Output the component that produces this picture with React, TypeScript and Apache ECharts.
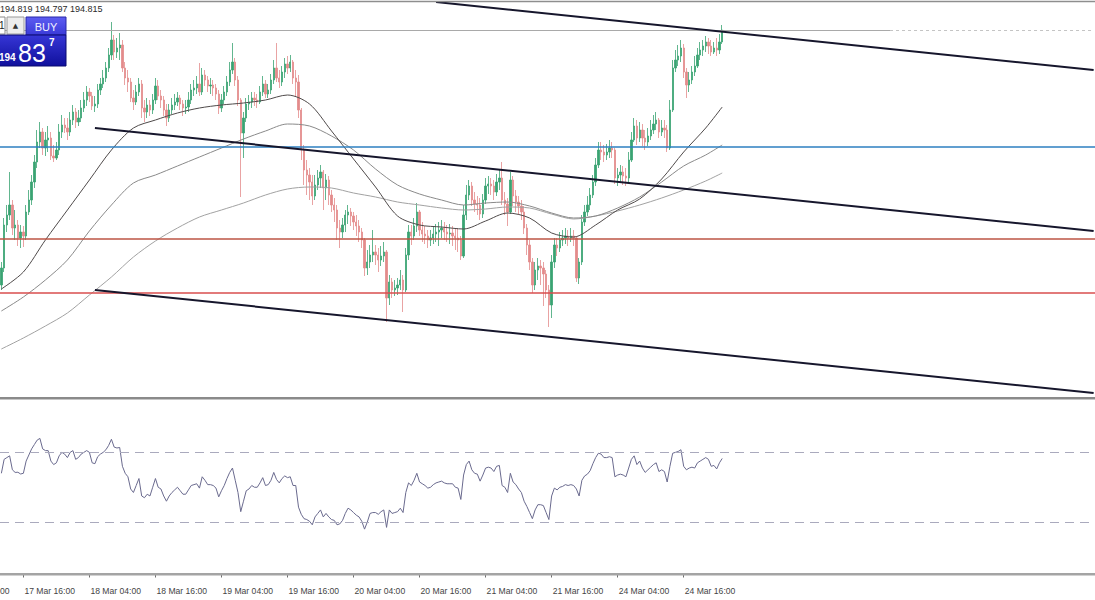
import { useEffect, useRef } from "react";
import * as echarts from "echarts";

// ---- data (30-minute bars, 17 Mar 12:00 .. 24 Mar 23:00) ----
const firstOpen = 192.27;
const closes = [
  192.44, 192.87, 192.97, 193.07, 192.84, 192.87, 192.74, 192.8, 192.76, 193.0,
  193.12, 193.3, 193.5, 193.7, 193.8, 193.64, 193.72, 193.74, 193.56, 193.54,
  193.62, 193.8, 193.87, 193.84, 193.8, 193.92, 194.0, 193.9, 193.94, 194.04,
  194.12, 194.2, 194.16, 194.06, 194.08, 194.22, 194.28, 194.34, 194.44, 194.57,
  194.72, 194.6, 194.64, 194.67, 194.44, 194.34, 194.3, 194.14, 194.1, 194.2,
  194.28, 194.04, 194.0, 194.07, 194.02, 194.12, 194.26, 194.16, 194.12, 194.02,
  193.94, 194.02, 194.07, 194.1, 194.14, 194.08, 194.04, 194.05, 194.12, 194.22,
  194.24, 194.28, 194.2, 194.37, 194.32, 194.26, 194.27, 194.24, 194.18, 194.04,
  194.12, 194.2, 194.3, 194.42, 194.5, 194.32, 194.12, 193.79, 193.94, 194.08,
  194.1, 194.14, 194.12, 194.1, 194.2, 194.28, 194.18, 194.22, 194.32, 194.44,
  194.34, 194.3, 194.4, 194.48, 194.44, 194.5, 194.34, 194.3, 194.02, 193.62,
  193.42, 193.37, 193.3, 193.16, 193.27, 193.34, 193.4, 193.24, 193.32, 193.17,
  193.07, 193.02, 192.84, 192.8, 192.87, 192.97, 193.0, 192.96, 192.9, 192.86,
  192.8, 192.72, 192.44, 192.5, 192.57, 192.6, 192.57, 192.52, 192.56, 192.6,
  192.14, 192.3, 192.22, 192.24, 192.27, 192.32, 192.22, 192.57, 192.8, 192.76,
  192.86, 193.0, 192.82, 192.78, 192.76, 192.72, 192.74, 192.78, 192.8, 192.82,
  192.84, 192.8, 192.78, 192.79, 192.76, 192.74, 192.72, 192.56, 192.97, 193.17,
  193.26, 193.12, 193.08, 193.07, 192.98, 193.12, 193.26, 193.28, 193.26, 193.2,
  193.3, 193.34, 193.12, 193.08, 193.0, 193.32, 193.16, 193.1, 193.06, 193.0,
  192.84, 192.67, 192.5, 192.27, 192.42, 192.46, 192.44, 192.38, 192.22, 192.07,
  192.5, 192.67, 192.64, 192.72, 192.74, 192.76, 192.74, 192.76, 192.74, 192.34,
  192.5, 192.9, 193.0, 193.07, 193.17, 193.3, 193.47, 193.62, 193.6, 193.57,
  193.6, 193.64, 193.62, 193.34, 193.37, 193.4, 193.36, 193.34, 193.52, 193.72,
  193.86, 193.74, 193.82, 193.74, 193.7, 193.76, 193.82, 193.88, 193.92, 193.8,
  193.84, 193.82, 193.64, 194.02, 194.44, 194.52, 194.56, 194.64, 194.4, 194.27,
  194.32, 194.4, 194.46, 194.57, 194.62, 194.66, 194.7, 194.66, 194.6, 194.64,
  194.62, 194.7, 194.82,
];
const highs = [
  192.5, 192.94, 193.07, 193.4, 193.12, 193.02, 192.92, 192.87, 192.86, 193.07,
  193.22, 193.37, 193.57, 193.82, 193.9, 193.84, 193.8, 193.86, 193.8, 193.67,
  193.7, 193.88, 193.97, 193.94, 193.94, 194.0, 194.07, 194.04, 194.02, 194.12,
  194.2, 194.26, 194.24, 194.2, 194.16, 194.28, 194.34, 194.42, 194.5, 194.64,
  194.9, 194.77, 194.74, 194.79, 194.72, 194.5, 194.42, 194.34, 194.22, 194.27,
  194.34, 194.32, 194.12, 194.14, 194.12, 194.18, 194.34, 194.32, 194.22, 194.16,
  194.08, 194.08, 194.14, 194.18, 194.2, 194.17, 194.12, 194.12, 194.2, 194.28,
  194.32, 194.36, 194.49, 194.44, 194.42, 194.36, 194.34, 194.32, 194.28, 194.22,
  194.18, 194.26, 194.36, 194.5, 194.69, 194.54, 194.36, 194.14, 194.0, 194.14,
  194.17, 194.2, 194.2, 194.18, 194.26, 194.36, 194.32, 194.28, 194.38, 194.52,
  194.69, 194.42, 194.46, 194.54, 194.56, 194.57, 194.52, 194.42, 194.37, 194.04,
  193.67, 193.52, 193.44, 193.37, 193.37, 193.42, 193.47, 193.42, 193.38, 193.36,
  193.22, 193.14, 193.07, 192.92, 192.94, 193.02, 193.07, 193.04, 193.0, 192.97,
  192.92, 192.84, 192.74, 192.62, 192.67, 192.82, 192.67, 192.64, 192.66, 192.7,
  192.62, 192.37, 192.34, 192.32, 192.34, 192.42, 192.37, 192.64, 192.87, 192.87,
  192.94, 193.09, 193.02, 192.9, 192.86, 192.82, 192.82, 192.86, 192.88, 192.9,
  192.92, 192.9, 192.87, 192.88, 192.86, 192.84, 192.84, 192.76, 193.07, 193.27,
  193.32, 193.3, 193.2, 193.16, 193.14, 193.18, 193.34, 193.36, 193.34, 193.32,
  193.38, 193.42, 193.5, 193.2, 193.14, 193.4, 193.36, 193.22, 193.16, 193.12,
  193.06, 192.88, 192.72, 192.54, 192.5, 192.54, 192.52, 192.5, 192.42, 192.27,
  192.57, 192.74, 192.74, 192.8, 192.82, 192.84, 192.82, 192.84, 192.82, 192.76,
  192.54, 192.97, 193.07, 193.16, 193.24, 193.37, 193.54, 193.7, 193.7, 193.67,
  193.68, 193.72, 193.7, 193.64, 193.44, 193.47, 193.46, 193.44, 193.6, 193.8,
  193.94, 193.92, 193.9, 193.88, 193.82, 193.84, 193.92, 193.97, 194.0, 193.94,
  193.92, 193.92, 193.87, 194.12, 194.52, 194.62, 194.67, 194.72, 194.68, 194.44,
  194.4, 194.46, 194.56, 194.64, 194.7, 194.72, 194.76, 194.74, 194.72, 194.7,
  194.74, 194.78, 194.87,
];
const lows = [
  192.22, 192.4, 192.8, 192.92, 192.77, 192.72, 192.66, 192.64, 192.65, 192.72,
  192.97, 193.07, 193.24, 193.44, 193.64, 193.57, 193.56, 193.6, 193.52, 193.5,
  193.52, 193.57, 193.74, 193.79, 193.72, 193.76, 193.87, 193.84, 193.86, 193.9,
  194.0, 194.06, 194.1, 194.02, 194.0, 194.04, 194.17, 194.24, 194.3, 194.4,
  194.52, 194.52, 194.54, 194.52, 194.4, 194.27, 194.2, 194.1, 194.02, 194.07,
  194.16, 193.94, 193.9, 193.94, 193.96, 193.98, 194.08, 194.12, 194.04, 193.96,
  193.86, 193.9, 193.98, 194.02, 194.06, 194.02, 193.96, 193.98, 194.0, 194.08,
  194.16, 194.18, 194.16, 194.17, 194.26, 194.2, 194.18, 194.16, 194.12, 193.98,
  194.0, 194.08, 194.16, 194.26, 194.38, 194.26, 194.06, 193.15, 193.54, 193.9,
  194.02, 194.04, 194.06, 194.04, 194.08, 194.16, 194.14, 194.14, 194.18, 194.28,
  194.3, 194.24, 194.26, 194.34, 194.38, 194.4, 194.28, 194.16, 193.94, 193.52,
  193.27, 193.17, 193.12, 193.07, 193.12, 193.22, 193.24, 193.02, 193.12, 193.07,
  193.0, 192.9, 192.72, 192.64, 192.74, 192.8, 192.88, 192.86, 192.82, 192.76,
  192.7, 192.64, 192.36, 192.37, 192.44, 192.5, 192.47, 192.4, 192.46, 192.5,
  191.9, 192.07, 192.14, 192.16, 192.17, 192.22, 192.0, 192.2, 192.52, 192.67,
  192.72, 192.8, 192.76, 192.7, 192.68, 192.64, 192.66, 192.68, 192.7, 192.66,
  192.74, 192.72, 192.7, 192.68, 192.66, 192.62, 192.6, 192.52, 192.54, 192.92,
  193.12, 193.06, 193.0, 192.97, 192.92, 192.94, 193.08, 193.18, 193.17, 193.12,
  193.16, 193.22, 193.07, 192.97, 192.86, 192.98, 193.06, 193.0, 192.97, 192.92,
  192.78, 192.57, 192.42, 192.19, 192.22, 192.32, 192.27, 192.06, 192.14, 191.85,
  191.94, 192.44, 192.56, 192.6, 192.66, 192.68, 192.66, 192.7, 192.66, 192.3,
  192.28, 192.47, 192.86, 192.96, 193.02, 193.14, 193.26, 193.44, 193.52, 193.5,
  193.52, 193.54, 193.54, 193.28, 193.26, 193.3, 193.27, 193.26, 193.3, 193.5,
  193.7, 193.67, 193.7, 193.66, 193.62, 193.66, 193.72, 193.78, 193.82, 193.74,
  193.76, 193.74, 193.6, 193.62, 194.0, 194.4, 194.46, 194.5, 194.34, 194.14,
  194.2, 194.28, 194.36, 194.44, 194.52, 194.56, 194.6, 194.58, 194.56, 194.58,
  194.56, 194.58, 194.68,
];
const rsiValues = [
  58, 66, 67, 68, 60, 58.5, 58.6, 57.6, 58, 65,
  68.5, 72, 74.5, 77, 78, 72, 71, 71, 65, 63,
  64, 68, 70, 69, 67, 70, 71, 66, 67, 69,
  70, 71, 70, 64, 63.5, 67.5, 69, 70, 71.5, 74,
  77.5, 73, 72.5, 72.8, 62, 58, 56, 49, 47, 51,
  55, 45, 44, 46, 45, 50, 55, 50, 49, 45,
  42, 45, 47, 48.5, 50, 48, 46, 46, 48.5, 51,
  51.5, 52, 49.5, 56, 54, 51.5, 51.5, 51, 49.5, 44.5,
  48, 51, 55, 58.5, 61, 54, 47, 36, 42, 48,
  49, 51, 50, 50, 52.5, 55.5, 51, 51.5, 54, 58.5,
  54.5, 52.5, 55, 56.5, 55.5, 56, 51, 51, 38.6, 34.5,
  32, 31.5, 30.5, 28.5, 33, 35, 37, 33, 35, 33,
  31.5, 31, 28.5, 29, 31, 35, 38, 37, 35.5, 34,
  33, 30.5, 26, 30, 35, 35.5, 35.5, 34.5, 36, 37,
  27, 37, 35, 35.5, 36, 38, 35.5, 47, 52.5, 51,
  54, 58, 53, 52, 51, 49.5, 50, 51.5, 52.5, 53,
  53.5, 52.5, 52, 52, 52, 50, 49.5, 43, 57, 63,
  65, 60, 58, 57.5, 53.5, 57, 61, 61.5, 61, 59,
  62, 62.5, 51, 50, 47, 58, 53, 51.5, 49, 47,
  42, 39, 35.5, 32, 37, 40, 40, 39.5, 35.5, 31.5,
  45, 49.5, 48.5, 50, 50.5, 51.5, 51, 51.5, 51, 49,
  45, 54, 56.5, 57.5, 59.5, 63.5, 67, 69.5, 69, 67,
  67, 67.5, 67, 56, 57, 57.5, 57, 56, 61, 66,
  68, 63, 65, 61, 58.5, 60, 61.5, 63, 64, 59,
  60, 59, 53, 62, 69.5, 70, 70.5, 71.5, 62, 60,
  61, 61.5, 61, 64, 65, 66, 67, 66, 62, 62.5,
  60.5, 64, 66.5,
];
// moving averages, read at these bar indices
const maIndex = [0, 8, 16, 24, 32, 40, 48, 56, 64, 72, 80, 88, 96, 104, 112, 120, 128, 136, 144, 152, 160, 168, 176, 184, 192, 200, 208, 216, 224, 232, 240, 248, 256, 262];
const maFast = [192.23, 192.4, 192.72, 193.02, 193.32, 193.62, 193.84, 193.92, 193.99, 194.04, 194.07, 194.09, 194.12, 194.17, 194.08, 193.81, 193.53, 193.25, 192.96, 192.87, 192.85, 192.83, 192.91, 192.99, 192.94, 192.79, 192.75, 192.87, 193.02, 193.13, 193.33, 193.6, 193.84, 194.05];
const maMid = [192.01, 192.15, 192.32, 192.52, 192.81, 193.07, 193.29, 193.37, 193.46, 193.55, 193.64, 193.73, 193.81, 193.88, 193.86, 193.76, 193.62, 193.43, 193.27, 193.18, 193.12, 193.07, 193.09, 193.1, 193.06, 192.99, 192.94, 192.96, 193.04, 193.15, 193.3, 193.46, 193.57, 193.67];
const maSlow = [191.63, 191.74, 191.86, 191.99, 192.17, 192.35, 192.55, 192.71, 192.84, 192.95, 193.02, 193.09, 193.17, 193.23, 193.25, 193.24, 193.19, 193.15, 193.1, 193.07, 193.04, 193.02, 193.03, 193.05, 193.04, 192.98, 192.93, 192.96, 193.01, 193.07, 193.14, 193.22, 193.31, 193.39];
// time scale
const tickLabels = ["17 Mar 16:00", "18 Mar 04:00", "18 Mar 16:00", "19 Mar 04:00", "19 Mar 16:00", "20 Mar 04:00", "20 Mar 16:00", "21 Mar 04:00", "21 Mar 16:00", "24 Mar 04:00", "24 Mar 16:00"];
const partialLabel = "17 Mar 04:00";
const firstTickBar = 8;
const barsPerTick = 24;
const totalSlots = 398;
// horizontal levels and channel (bar index, price)
const bidPrice = 194.82;
const levelBlue = 193.65;
const levelDarkRed = 192.73;
const levelRed = 192.19;
const channelUpper = [[158, 195.1], [397, 194.42]];
const channelMiddle = [[34, 193.84], [397, 192.81]];
const channelLower = [[34, 192.22], [397, 191.19]];
const ohlcText = "194.819 194.797 194.815";

const FONT = '"Liberation Sans", Arial, sans-serif';

function isTick(index: number) {
  const k = (index - firstTickBar) / barsPerTick;
  return index >= firstTickBar && Number.isInteger(k) && k < tickLabels.length;
}

export default function App() {
  const ref = useRef<HTMLDivElement>(null);
  useEffect(() => {
    const chart = echarts.init(ref.current!, null, { renderer: "svg" });
    const categories = Array.from({ length: totalSlots }, (_, i) => String(i));
    const candleData = closes.map((c, i) => [i === 0 ? firstOpen : closes[i - 1], c, lows[i], highs[i]]);
    const maLine = (vals: number[]) => maIndex.map((x, k) => [x, vals[k]]);
    const seg = (p: number[][], color: string, width: number, type: any = "solid") => [
      { coord: p[0], lineStyle: { color, width, type } },
      { coord: p[1] },
    ];
    const option: any = {
      animation: false,
      backgroundColor: "#ffffff",
      textStyle: { fontFamily: FONT },
      grid: [
        { left: 0, right: 0, top: 0, height: 396, containLabel: false, outerBoundsMode: "none" },
        { left: 0, right: 0, top: 400, height: 174.5, containLabel: false, outerBoundsMode: "none" },
      ],
      xAxis: [
        { type: "category", gridIndex: 0, data: categories, boundaryGap: true, show: false },
        {
          type: "category",
          gridIndex: 1,
          data: categories,
          boundaryGap: true,
          offset: 8,
          axisLine: { show: true, lineStyle: { color: "#6e6e6e", width: 1 } },
          axisTick: { show: true, interval: (i: number) => isTick(i), alignWithLabel: true, length: 3, lineStyle: { color: "#6e6e6e" } },
          axisLabel: {
            show: true,
            interval: (i: number) => isTick(i),
            formatter: (_v: string, i: number) => tickLabels[(i - firstTickBar) / barsPerTick] ?? "",
            align: "left",
            margin: 4,
            padding: [0, 0, 0, 1],
            fontSize: 8.6,
            color: "#454545",
            fontFamily: FONT,
          },
          splitLine: { show: false },
        },
      ],
      yAxis: [
        { type: "value", gridIndex: 0, min: 191.16, max: 195.12, show: false, splitLine: { show: false } },
        { type: "value", gridIndex: 1, min: 0, max: 100, show: false, splitLine: { show: false } },
      ],
      series: [
        {
          type: "candlestick",
          xAxisIndex: 0,
          yAxisIndex: 0,
          data: candleData,
          barWidth: 1.8,
          silent: true,
          itemStyle: { color: "#3aa372", color0: "#e38b8b", borderColor: "#3aa372", borderColor0: "#e38b8b", borderWidth: 0.8 },
          z: 2,
        },
        {
          type: "line", xAxisIndex: 0, yAxisIndex: 0, data: maLine(maSlow), showSymbol: false, symbol: "none", smooth: 0.3, silent: true,
          lineStyle: { color: "#a2a2a2", width: 1 }, z: 3,
          markLine: {
            silent: true, symbol: ["none", "none"], label: { show: false }, z: 6,
            data: [
              [{ coord: [0, bidPrice], lineStyle: { color: "#a9a9a9", width: 1, type: "solid" } }, { coord: [323, bidPrice] }],
              [{ coord: [323, bidPrice], lineStyle: { color: "#c4c4c4", width: 1, type: [3, 3] } }, { coord: [397, bidPrice] }],
              { yAxis: levelBlue, lineStyle: { color: "#2c7fc0", width: 1.5, type: "solid" } },
              { yAxis: levelDarkRed, lineStyle: { color: "#bc5544", width: 1.5, type: "solid" } },
              { yAxis: levelRed, lineStyle: { color: "#d84e4e", width: 1.5, type: "solid" } },
              seg(channelUpper, "#16162c", 2),
              seg(channelMiddle, "#16162c", 2),
              seg(channelLower, "#16162c", 2),
            ],
          },
        },
        {
          type: "line", xAxisIndex: 0, yAxisIndex: 0, data: maLine(maMid), showSymbol: false, symbol: "none", smooth: 0.3, silent: true,
          lineStyle: { color: "#8a8a8a", width: 1 }, z: 3,
        },
        {
          type: "line", xAxisIndex: 0, yAxisIndex: 0, data: maLine(maFast), showSymbol: false, symbol: "none", smooth: 0.3, silent: true,
          lineStyle: { color: "#4f4a4a", width: 1 }, z: 3,
        },
        {
          type: "line", xAxisIndex: 1, yAxisIndex: 1, data: rsiValues, showSymbol: false, symbol: "none", silent: true,
          lineStyle: { color: "#6a6a8e", width: 1 }, z: 3,
          markLine: {
            silent: true, symbol: ["none", "none"], label: { show: false },
            lineStyle: { color: "#aaaabd", width: 1, type: [9, 6] },
            data: [{ yAxis: 70 }, { yAxis: 30 }],
          },
        },
      ],
      graphic: [
        { type: "line", z: 100, shape: { x1: 0, y1: 1.5, x2: 1095, y2: 1.5 }, style: { stroke: "#8e8e8e", lineWidth: 1.5 } },
        { type: "rect", z: 100, shape: { x: 0, y: 397, width: 1095, height: 2 }, style: { fill: "#8a8a8a" } },
        { type: "line", z: 100, shape: { x1: 0, y1: 399.5, x2: 1095, y2: 399.5 }, style: { stroke: "#c6c6c6", lineWidth: 1 } },
        { type: "rect", z: 100, shape: { x: 0, y: 573, width: 1095, height: 2.5 }, style: { fill: "#a4a4a4" } },
        { type: "text", z: 100, x: 0, y: 4, style: { text: ohlcText, fill: "#2a2a2a", fontSize: 9, fontFamily: FONT } },
        { type: "text", z: 100, x: -41, y: 586.5, style: { text: partialLabel, fill: "#454545", fontSize: 8.6, fontFamily: FONT } },
        // trade panel
        { type: "rect", z: 100, shape: { x: -6, y: 17, width: 11, height: 17 }, style: { fill: "#ffffff", stroke: "#8a8a8a", lineWidth: 1 } },
        { type: "text", z: 101, x: -1, y: 20, style: { text: "1", fill: "#222", fontSize: 10, fontFamily: FONT } },
        { type: "rect", z: 100, shape: { x: 7, y: 17, width: 17, height: 17 }, style: { fill: "#ededed", stroke: "#9a9a9a", lineWidth: 1 } },
        { type: "text", z: 101, x: 15.5, y: 25.5, style: { text: "▲", fill: "#333", fontSize: 7, align: "center", verticalAlign: "middle", fontFamily: "DejaVu Sans" } },
        {
          type: "rect", z: 100, shape: { x: 26, y: 17, width: 40, height: 18 },
          style: { fill: new echarts.graphic.LinearGradient(0, 0, 0, 1, [{ offset: 0, color: "#5d5df2" }, { offset: 1, color: "#3a3ad8" }]), stroke: "#2828a8", lineWidth: 1 },
        },
        { type: "text", z: 101, x: 46, y: 26.5, style: { text: "BUY", fill: "#f0f0ff", fontSize: 11, align: "center", verticalAlign: "middle", fontFamily: FONT } },
        {
          type: "rect", z: 100, shape: { x: -1, y: 35, width: 67, height: 31 },
          style: { fill: new echarts.graphic.LinearGradient(0, 0, 0, 1, [{ offset: 0, color: "#3636d6" }, { offset: 1, color: "#10109c" }]), stroke: "#0a0a70", lineWidth: 1 },
        },
        { type: "text", z: 101, x: -1, y: 62, style: { text: "194", fill: "#ffffff", fontSize: 10, fontWeight: "bold", verticalAlign: "bottom", fontFamily: FONT } },
        { type: "text", z: 101, x: 18, y: 65, style: { text: "83", fill: "#ffffff", fontSize: 25, verticalAlign: "bottom", fontFamily: FONT } },
        { type: "text", z: 101, x: 49, y: 37, style: { text: "7", fill: "#ffffff", fontSize: 10, fontWeight: "bold", fontFamily: FONT } },
      ],
    };
    chart.setOption(option);
    return () => chart.dispose();
  }, []);
  return (
    <div
      ref={ref}
      style={{ position: "fixed", left: 0, top: 0, width: 1095, height: 600, background: "#ffffff" }}
    />
  );
}
